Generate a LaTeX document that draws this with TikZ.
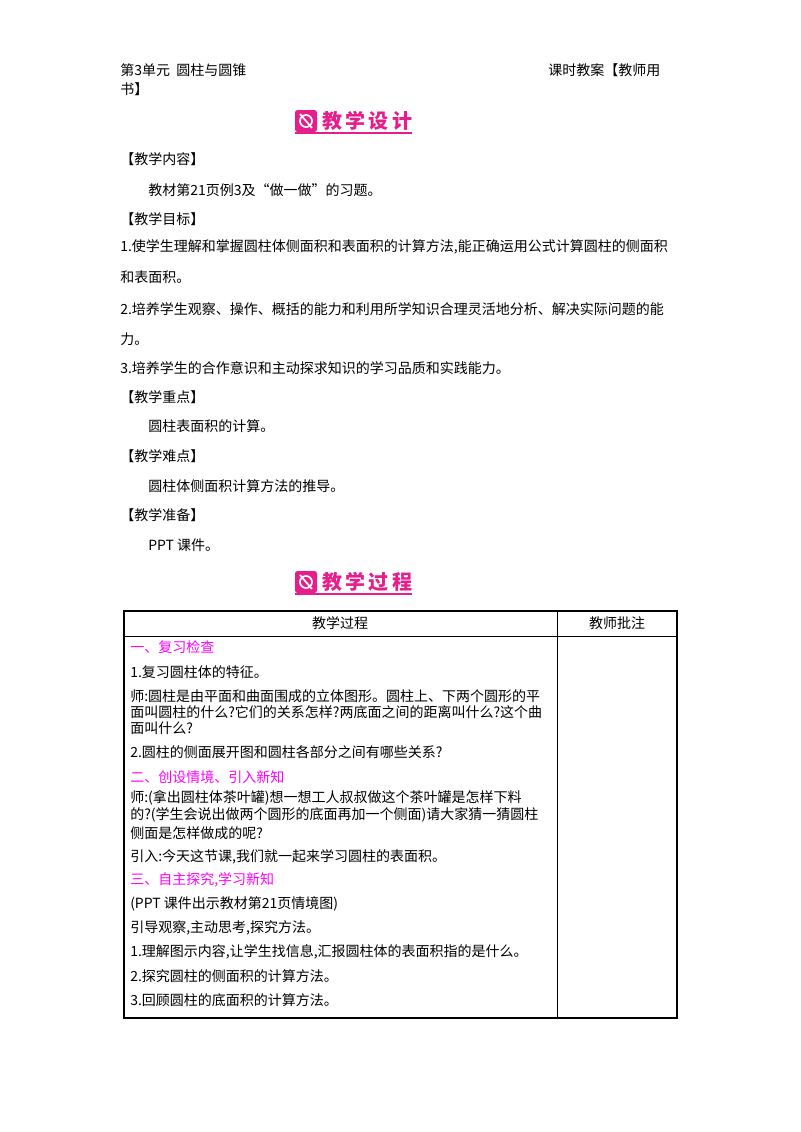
\documentclass[tikz,border=0pt]{standalone}
\usepackage{fontspec}
\setmainfont{Noto Sans CJK SC}
\newfontfamily\cjk{Noto Sans CJK SC}
\definecolor{mag}{RGB}{230,30,140}
\definecolor{pink}{RGB}{255,0,255}
\begin{document}
\begin{tikzpicture}[x=0.75pt,y=-0.75pt,
  t/.style={anchor=west,inner sep=0pt,font=\fontsize{10.5}{12}\selectfont},
  tp/.style={t,text=pink},
  badgetext/.style={anchor=west,inner sep=0pt,font=\fontsize{15}{16}\selectfont\bfseries,text=mag}]
\useasboundingbox (0,0) rectangle (800,1132);
\node[t] (h1) at (120,70) {第3单元\ \ 圆柱与圆锥};
\node[t] (h2) at (120,89) {书】};
\node[t] (h3) at (548,70) {课时教案【教师用};
% badge 1
\fill[mag,rounded corners=2pt] (295,110) rectangle (317,132);
\draw[white,line width=1.3pt] (306,121) circle (6);
\draw[white,line width=1.3pt] (300,114) -- (312,128);
\node[badgetext] (b1) at (322,121) {教\,学\,设\,计};
\draw[mag,line width=0.8pt] (295,133) -- (412,133);
\node[t] (a1) at (120,159) {【教学内容】};
\node[t] (a2) at (148,190) {教材第21页例3及“做一做”的习题。};
\node[t] (a3) at (120,219) {【教学目标】};
\node[t] (a4) at (120,247) {1.使学生理解和掌握圆柱体侧面积和表面积的计算方法,能正确运用公式计算圆柱的侧面积};
\node[t] (a5) at (120,277) {和表面积。};
\node[t] (a6) at (120,309) {2.培养学生观察、操作、概括的能力和利用所学知识合理灵活地分析、解决实际问题的能};
\node[t] (a7) at (120,339) {力。};
\node[t] (a8) at (120,368) {3.培养学生的合作意识和主动探求知识的学习品质和实践能力。};
\node[t] (a9) at (120,397) {【教学重点】};
\node[t] (a10) at (148,426) {圆柱表面积的计算。};
\node[t] (a11) at (120,456) {【教学难点】};
\node[t] (a12) at (148,486) {圆柱体侧面积计算方法的推导。};
\node[t] (a13) at (120,515) {【教学准备】};
\node[t] (a14) at (148,545) {PPT 课件。};
% badge 2
\fill[mag,rounded corners=2pt] (295,571) rectangle (317,593);
\draw[white,line width=1.3pt] (306,582) circle (6);
\draw[white,line width=1.3pt] (300,575) -- (312,589);
\node[badgetext] (b2) at (322,582) {教\,学\,过\,程};
\draw[mag,line width=0.8pt] (295,594) -- (412,594);
% table
\draw[line width=0.8pt] (124,611) rectangle (677,1018);
\draw[line width=0.6pt] (124,636) -- (677,636);
\draw[line width=0.6pt] (557,611) -- (557,1018);
\node[t,anchor=center] (c1) at (340,623) {教学过程};
\node[t,anchor=center] (c2) at (617,623) {教师批注};
\node[tp] at (130,647) {一、复习检查};
\node[t] at (130,672) {1.复习圆柱体的特征。};
\node[t] at (130,696) {师:圆柱是由平面和曲面围成的立体图形。圆柱上、下两个圆形的平};
\node[t] at (130,712) {面叫圆柱的什么?它们的关系怎样?两底面之间的距离叫什么?这个曲};
\node[t] at (130,728) {面叫什么?};
\node[t] at (130,752) {2.圆柱的侧面展开图和圆柱各部分之间有哪些关系?};
\node[tp] at (130,777) {二、创设情境、引入新知};
\node[t] at (130,798) {师:(拿出圆柱体茶叶罐)想一想工人叔叔做这个茶叶罐是怎样下料};
\node[t] at (130,815) {的?(学生会说出做两个圆形的底面再加一个侧面)请大家猜一猜圆柱};
\node[t] at (130,833) {侧面是怎样做成的呢?};
\node[t] at (130,857) {引入:今天这节课,我们就一起来学习圆柱的表面积。};
\node[tp] at (130,880) {三、自主探究,学习新知};
\node[t] at (130,904) {(PPT 课件出示教材第21页情境图)};
\node[t] at (130,928) {引导观察,主动思考,探究方法。};
\node[t] at (130,952) {1.理解图示内容,让学生找信息,汇报圆柱体的表面积指的是什么。};
\node[t] at (130,976) {2.探究圆柱的侧面积的计算方法。};
\node[t] at (130,1000) {3.回顾圆柱的底面积的计算方法。};
\end{tikzpicture}
\end{document}
